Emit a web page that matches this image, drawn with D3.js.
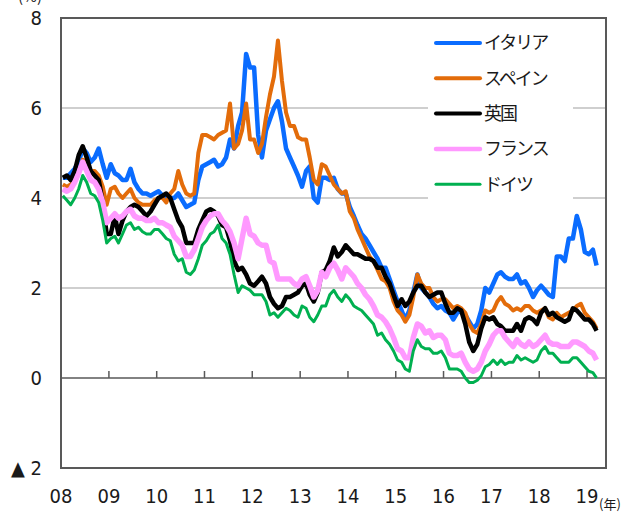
<!DOCTYPE html>
<html>
<head>
<meta charset="utf-8">
<script src="https://cdn.jsdelivr.net/npm/d3@7"></script>
<style>
  body { margin: 0; background: #fff; }
  text { font-family: "DejaVu Sans Condensed", "DejaVu Sans", sans-serif; fill: #1a1a1a; }
  .jp { font-family: "Noto Sans CJK JP", sans-serif; }
</style>
</head>
<body>
<script>
// monthly 10y yields (%), Jan 2008 .. Mar 2019
var italy = [
  4.45,4.45,4.55,4.65,4.8,5.1,5.0,4.8,4.9,5.1,4.75,4.45,
  4.75,4.55,4.5,4.4,4.4,4.65,4.35,4.2,4.1,4.1,4.05,4.1,
  4.15,4.05,4.0,4.0,4.0,4.1,3.95,3.8,3.85,3.9,4.4,4.7,
  4.75,4.8,4.85,4.7,4.75,4.9,5.3,5.1,5.6,5.9,7.2,6.9,
  6.9,5.4,4.9,5.5,5.75,6.0,6.15,5.7,5.1,4.9,4.7,4.5,
  4.25,4.6,4.7,4.0,3.9,4.45,4.45,4.4,4.45,4.2,4.1,4.1,
  3.8,3.6,3.4,3.2,3.1,2.95,2.8,2.65,2.45,2.45,2.2,1.95,
  1.7,1.5,1.3,1.5,1.9,2.3,2.0,1.9,1.8,1.65,1.55,1.6,
  1.5,1.45,1.3,1.45,1.5,1.4,1.25,1.1,1.2,1.5,2.0,1.9,
  2.1,2.3,2.35,2.25,2.2,2.2,2.3,2.1,2.15,2.0,1.8,1.95,
  2.05,1.95,1.85,1.8,2.7,2.7,2.6,3.1,3.1,3.6,3.3,2.8,
  2.75,2.85,2.5
];
var spain = [
  4.3,4.25,4.3,4.4,4.55,4.85,4.8,4.6,4.6,4.5,4.25,3.85,
  4.2,4.25,4.1,4.0,4.1,4.2,4.0,3.9,3.85,3.85,3.85,3.95,
  4.0,4.0,3.9,4.1,4.2,4.6,4.3,4.1,4.05,4.1,5.0,5.4,
  5.4,5.35,5.3,5.4,5.45,5.5,6.1,5.1,5.2,5.5,6.1,5.3,
  5.3,5.0,5.2,5.8,6.3,6.7,7.5,6.6,5.9,5.6,5.6,5.35,
  5.3,5.3,4.9,4.4,4.3,4.75,4.7,4.5,4.3,4.2,4.1,4.15,
  3.7,3.55,3.3,3.1,2.9,2.7,2.6,2.4,2.2,2.15,2.0,1.7,
  1.5,1.4,1.25,1.4,1.8,2.3,2.1,2.0,2.0,1.8,1.7,1.75,
  1.75,1.65,1.55,1.6,1.55,1.45,1.2,1.05,1.0,1.2,1.5,1.45,
  1.5,1.7,1.8,1.65,1.6,1.5,1.55,1.5,1.6,1.6,1.5,1.45,
  1.5,1.55,1.35,1.3,1.45,1.35,1.4,1.45,1.5,1.6,1.65,1.45,
  1.35,1.25,1.1
];
var uk = [
  4.45,4.5,4.4,4.6,4.95,5.15,4.9,4.6,4.5,4.4,3.9,3.2,
  3.2,3.6,3.2,3.5,3.7,3.8,3.85,3.8,3.7,3.6,3.7,3.85,
  4.0,4.05,4.1,4.0,3.75,3.5,3.35,3.0,3.0,3.0,3.3,3.5,
  3.7,3.75,3.7,3.6,3.4,3.35,3.05,2.6,2.4,2.45,2.3,2.1,
  2.05,2.15,2.25,2.1,1.8,1.65,1.55,1.6,1.8,1.8,1.85,1.9,
  2.05,2.1,1.85,1.7,1.9,2.35,2.4,2.6,2.9,2.7,2.8,2.95,
  2.85,2.75,2.75,2.7,2.65,2.65,2.6,2.45,2.45,2.25,2.1,1.85,
  1.6,1.75,1.6,1.7,1.9,2.05,2.05,1.9,1.8,1.85,1.9,1.9,
  1.65,1.45,1.45,1.55,1.5,1.2,0.8,0.6,0.75,1.1,1.35,1.3,
  1.35,1.2,1.15,1.05,1.05,1.05,1.2,1.05,1.3,1.35,1.3,1.2,
  1.45,1.55,1.4,1.45,1.35,1.3,1.25,1.3,1.55,1.5,1.4,1.3,
  1.3,1.2,1.05
];
var france = [
  4.2,4.15,4.2,4.35,4.55,4.8,4.6,4.4,4.35,4.2,3.9,3.45,
  3.55,3.65,3.55,3.6,3.7,3.75,3.6,3.55,3.55,3.5,3.5,3.55,
  3.45,3.45,3.4,3.35,3.15,3.05,2.95,2.7,2.7,2.85,3.1,3.35,
  3.5,3.6,3.65,3.65,3.5,3.4,3.25,3.0,2.65,3.1,3.55,3.2,
  3.15,3.0,2.95,2.95,2.6,2.55,2.2,2.2,2.2,2.2,2.1,2.05,
  2.2,2.25,2.05,1.8,1.95,2.35,2.25,2.45,2.55,2.4,2.2,2.45,
  2.35,2.25,2.1,2.0,1.85,1.75,1.6,1.4,1.35,1.25,1.1,0.9,
  0.65,0.6,0.45,0.45,0.9,1.2,1.15,1.0,1.05,0.9,0.95,0.95,
  0.85,0.55,0.5,0.5,0.55,0.35,0.2,0.15,0.2,0.35,0.6,0.75,
  0.95,1.05,1.05,0.9,0.8,0.7,0.85,0.75,0.7,0.8,0.7,0.75,
  0.85,0.95,0.8,0.75,0.75,0.7,0.7,0.7,0.8,0.8,0.75,0.7,
  0.6,0.55,0.4
];
var germany = [
  4.05,3.95,3.85,4.0,4.2,4.5,4.35,4.1,4.05,3.9,3.5,3.0,
  3.1,3.15,3.0,3.2,3.4,3.45,3.3,3.35,3.25,3.2,3.2,3.3,
  3.3,3.2,3.1,3.05,2.75,2.6,2.65,2.35,2.3,2.4,2.65,2.95,
  3.05,3.2,3.25,3.4,3.1,3.0,2.75,2.3,1.9,2.05,2.0,1.95,
  1.85,1.85,1.85,1.7,1.4,1.45,1.35,1.45,1.55,1.5,1.4,1.35,
  1.6,1.55,1.35,1.25,1.4,1.6,1.6,1.85,1.95,1.8,1.7,1.85,
  1.75,1.6,1.55,1.5,1.4,1.3,1.2,0.95,1.0,0.85,0.75,0.6,
  0.4,0.35,0.2,0.15,0.6,0.85,0.7,0.65,0.65,0.55,0.55,0.6,
  0.45,0.2,0.2,0.2,0.15,0.0,-0.1,-0.1,-0.05,0.05,0.25,0.3,
  0.4,0.3,0.4,0.3,0.35,0.35,0.5,0.4,0.45,0.4,0.35,0.4,
  0.6,0.7,0.55,0.55,0.45,0.35,0.35,0.35,0.45,0.45,0.35,0.25,
  0.15,0.12,0.0
];

var seriesNames = ["イタリア", "スペイン", "英国", "フランス", "ドイツ"];
var seriesColors = ["#0a6cff", "#e36c0a", "#000000", "#ff99ff", "#00b050"];
var seriesWidths = [4.5, 4, 4.5, 5.5, 3];
var seriesData = [italy, spain, uk, france, germany];

var yearLabels = ["08","09","10","11","12","13","14","15","16","17","18","19"];
var yTicks = [8, 6, 4, 2, 0, -2];
var yTickLabels = ["8", "6", "4", "2", "0", "▲ 2"];

var W = 632, H = 513;
var plotLeft = 61, plotRight = 606, plotTop = 18, plotBottom = 468;

var svg = d3.select("body").append("svg")
    .attr("width", W)
    .attr("height", H);

var x = d3.scaleTime()
    .domain([new Date(2008, 0, 1), new Date(2019, 4, 26)])
    .range([plotLeft, plotRight]);
var y = d3.scaleLinear().domain([-2, 8]).range([plotBottom, plotTop]);

var start = new Date(2008, 0, 15);
function dateAt(i) { return d3.timeMonth.offset(start, i); }

// grid lines
svg.append("g").selectAll("line")
    .data([2, 4, 6])
    .enter().append("line")
    .attr("x1", plotLeft).attr("x2", plotRight)
    .attr("y1", function(d) { return y(d); })
    .attr("y2", function(d) { return y(d); })
    .attr("stroke", "#bfbfbf")
    .attr("stroke-width", 1.5);

// zero line with year ticks
var years = yearLabels.map(function(l, i) { return new Date(2008 + i, 0, 1); });
svg.append("line")
    .attr("x1", plotLeft).attr("x2", plotRight)
    .attr("y1", y(0)).attr("y2", y(0))
    .attr("stroke", "#595959").attr("stroke-width", 1.5);
svg.append("g").selectAll("line")
    .data(years.slice(1))
    .enter().append("line")
    .attr("x1", function(d) { return x(d); })
    .attr("x2", function(d) { return x(d); })
    .attr("y1", y(0)).attr("y2", y(0) - 7)
    .attr("stroke", "#595959").attr("stroke-width", 1.5);

// lines
var line = d3.line()
    .x(function(d, i) { return x(dateAt(i)); })
    .y(function(d) { return y(d); });

seriesData.forEach(function(s, k) {
  svg.append("path")
      .attr("d", line(s))
      .attr("fill", "none")
      .attr("stroke", seriesColors[k])
      .attr("stroke-width", seriesWidths[k])
      .attr("stroke-linejoin", "round");
});

// frame
svg.append("rect")
    .attr("x", plotLeft).attr("y", plotTop)
    .attr("width", plotRight - plotLeft).attr("height", plotBottom - plotTop)
    .attr("fill", "none")
    .attr("stroke", "#595959")
    .attr("stroke-width", 2);

// y labels
svg.append("g").selectAll("text")
    .data(yTicks)
    .enter().append("text")
    .attr("x", 42)
    .attr("y", function(d) { return y(d); })
    .attr("dy", "0.36em")
    .attr("text-anchor", "end")
    .style("font-size", "20px")
    .text(function(d, i) { return yTickLabels[i]; });

// x labels
svg.append("g").selectAll("text")
    .data(years)
    .enter().append("text")
    .attr("x", function(d) { return x(d); })
    .attr("y", 503)
    .attr("text-anchor", "middle")
    .style("font-size", "20px")
    .text(function(d, i) { return yearLabels[i]; });

svg.append("text")
    .attr("class", "jp")
    .attr("x", 599).attr("y", 509)
    .style("font-size", "13px")
    .text("(年)");

svg.append("text")
    .attr("class", "jp")
    .attr("x", 18).attr("y", 2)
    .style("font-size", "15px")
    .text("(%)");

// legend
var lg = svg.append("g");
lg.append("rect")
    .attr("x", 428).attr("y", 25)
    .attr("width", 145).attr("height", 176)
    .attr("fill", "#fff");
seriesNames.forEach(function(n, k) {
  var yy = 43 + k * 35.3;
  lg.append("line")
      .attr("x1", 436).attr("x2", 480)
      .attr("y1", yy).attr("y2", yy)
      .attr("stroke", seriesColors[k])
      .attr("stroke-width", k == 3 ? 4.5 : (k == 4 ? 3 : 4))
      .attr("stroke-linecap", "round");
  lg.append("text")
      .attr("class", "jp")
      .attr("x", 484).attr("y", yy)
      .attr("dy", "0.36em")
      .style("font-size", "18px")
      .style("letter-spacing", "-2px")
      .text(n);
});
</script>
</body>
</html>
